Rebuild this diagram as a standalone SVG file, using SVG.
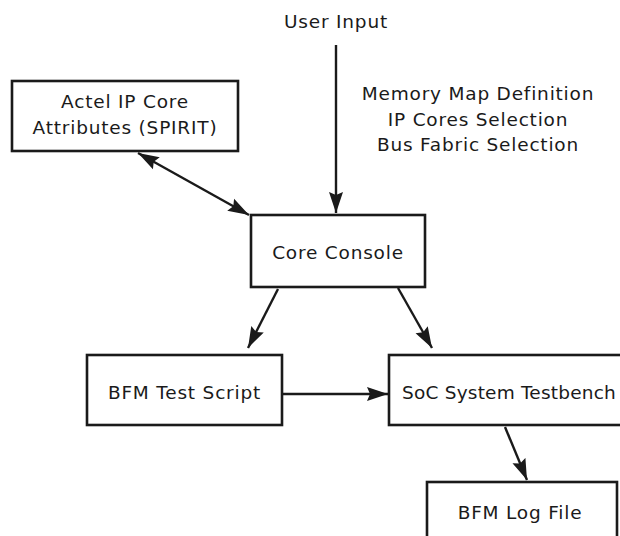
<svg xmlns="http://www.w3.org/2000/svg" width="620" height="536" viewBox="0 0 620 536">
<defs>
<marker id="ah" viewBox="0 0 21 15" refX="21" refY="7.5" markerWidth="21" markerHeight="15" markerUnits="userSpaceOnUse" orient="auto-start-reverse">
<path d="M0,0.5 L21,7.5 L0,14.5 L3,7.5 Z" fill="#1a1a1a"/>
</marker>
<style>
.box{fill:#fff;stroke:#1a1a1a;stroke-width:2.6}
.t{font-family:"DejaVu Sans","Open Sans",sans-serif;font-size:18.5px;letter-spacing:0.8px;fill:#1a1a1a;text-anchor:middle}
.c{stroke:#1a1a1a;stroke-width:2.4;fill:none}
</style>
</defs>
<rect width="620" height="536" fill="#fff"/>
<g id="connectors">
<line class="c" x1="336" y1="45" x2="336" y2="213" marker-end="url(#ah)"/>
<line class="c" x1="138" y1="153" x2="249" y2="215" marker-start="url(#ah)" marker-end="url(#ah)"/>
<line class="c" x1="278" y1="289" x2="248" y2="348" marker-end="url(#ah)"/>
<line class="c" x1="398" y1="288" x2="432" y2="348" marker-end="url(#ah)"/>
<line class="c" x1="282" y1="394" x2="388" y2="394" marker-end="url(#ah)"/>
<line class="c" x1="505" y1="427" x2="527" y2="480" marker-end="url(#ah)"/>
</g>
<g id="user-input">
<text class="t" x="336" y="28">User Input</text>
</g>
<g id="label">
<text class="t" x="478" y="100">Memory Map Definition</text>
<text class="t" x="478" y="126">IP Cores Selection</text>
<text class="t" x="478" y="151">Bus Fabric Selection</text>
</g>
<g id="actel">
<rect class="box" x="12" y="81" width="226" height="70"/>
<text class="t" x="125" y="108">Actel IP Core</text>
<text class="t" x="125" y="134">Attributes (SPIRIT)</text>
</g>
<g id="core-console">
<rect class="box" x="251" y="215" width="174" height="72"/>
<text class="t" x="338" y="259">Core Console</text>
</g>
<g id="bfm-test-script">
<rect class="box" x="87" y="355" width="195" height="70"/>
<text class="t" x="184.5" y="399">BFM Test Script</text>
</g>
<g id="soc-testbench">
<rect class="box" x="389" y="355" width="250" height="70"/>
<text class="t" x="509" y="399" style="letter-spacing:0.2px">SoC System Testbench</text>
</g>
<g id="bfm-log-file">
<rect class="box" x="427" y="482" width="190" height="70"/>
<text class="t" x="520" y="519">BFM Log File</text>
</g>
</svg>
